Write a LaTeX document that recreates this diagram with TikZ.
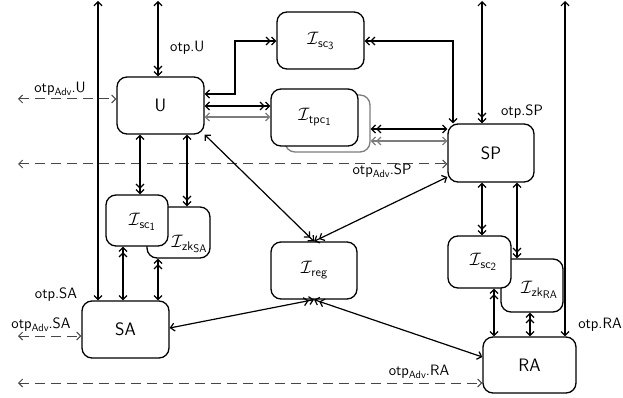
\documentclass[tikz,border=0pt]{standalone}
\usepackage{fix-cm}
\usetikzlibrary{arrows.meta}
\definecolor{dashgray}{RGB}{70,70,70}
\definecolor{softgray}{RGB}{125,125,125}
% functionality name: calligraphic I with a sans subscript and sub-subscript
\newcommand\funcname[2]{$\mathcal{I}$\kern-0.5pt\raisebox{-3pt}{\fontsize{12.5}{13}\selectfont #1\raisebox{-2pt}{\fontsize{11}{12}\selectfont #2}}}
\newcommand\advname{otp\raisebox{-2.5pt}{\fontsize{10.5}{11}\selectfont Adv}}
\begin{document}
\begin{tikzpicture}[x=1pt,y=-1pt,
  >={Straight Barb[length=4pt,width=8pt]},
  box/.style={draw, line width=1.3pt, rounded corners=10pt, fill=white,
    inner sep=0pt, font=\fontsize{18}{20}\selectfont\sffamily},
  lbl/.style={font=\fontsize{15}{17}\selectfont\sffamily, inner sep=0pt},
  ilbl/.style={font=\fontsize{18}{20}\selectfont\sffamily, inner sep=0pt},
  conn/.style={line width=1.2pt},
  gconn/.style={line width=1.2pt, draw=softgray},
  adv/.style={line width=1pt, draw=dashgray, dash pattern=on 10pt off 6pt},
]
\useasboundingbox (0,0) rectangle (623,398);

% parties and functionalities
\node[box, minimum width=87pt, minimum height=57pt] (U) at (160.5,105.5) {U};
\node[box, minimum width=87pt, minimum height=57pt] (Isc3) at (320.5,40.5) {};
\node[ilbl] (Isc3t) at (320.5,40.5) {\funcname{sc}{3}};
\node[box, draw=softgray, minimum width=85pt, minimum height=57pt] (tpcS) at (327.5,123.5) {};
\node[box, minimum width=87pt, minimum height=57pt] (tpc) at (314.5,117.5) {};
\node[ilbl] (tpct) at (314.5,117.5) {\funcname{tpc}{1}};
\node[box, minimum width=86pt, minimum height=58pt] (SP) at (491,153) {SP};
\node[box, minimum width=63pt, minimum height=51pt] (IzkSA) at (178.5,232.5) {};
\node[box, minimum width=62pt, minimum height=51pt] (Isc1) at (137,220.5) {};
\node[ilbl] (Isc1t) at (142,222) {\funcname{sc}{1}};
\node[ilbl] (IzkSAt) at (189,244) {\funcname{zk}{SA}};
\node[box, minimum width=87pt, minimum height=57pt] (SA) at (125.5,329.5) {SA};
\node[box, minimum width=86pt, minimum height=57pt] (Ireg) at (314,270.5) {};
\node[ilbl] (Iregt) at (314,270.5) {\funcname{reg}{}};
\node[box, minimum width=62pt, minimum height=53pt] (IzkRA) at (532,285.5) {};
\node[box, minimum width=63pt, minimum height=52pt] (Isc2) at (479.5,262) {};
\node[ilbl] (Isc2t) at (483,262) {\funcname{sc}{2}};
\node[ilbl] (IzkRAt) at (539,290) {\funcname{zk}{RA}};
\node[box, minimum width=93pt, minimum height=56pt] (RA) at (529.5,365) {RA};

% free ends of the environment channels
\coordinate (tU) at (158,1);
\coordinate (tSA) at (98,1);
\coordinate (tSP) at (482,1);
\coordinate (tRA) at (565,1);
\coordinate (aU) at (18,99);
\coordinate (aSP) at (18,164);
\coordinate (aSA) at (18,336);
\coordinate (aRA) at (18,383);
\coordinate (bU) at (235,41);
\coordinate (bSP) at (453,41);

% environment channels
\draw[conn, <->>] (tU) -- (tU |- U.north);
\draw[conn, <->] (tSA) -- (tSA |- SA.north);
\draw[conn, <->>] (tSP) -- (tSP |- SP.north);
\draw[conn, <->] (tRA) -- (tRA |- RA.north);

% adversary channels
\draw[adv, <->] (aU) -- (aU -| U.west);
\draw[adv, <->] (aSP) -- (aSP -| SP.west);
\draw[adv, <->] (aSA) -- (aSA -| SA.west);
\draw[adv, <->] (aRA) -- (aRA -| RA.west);

% links to the functionalities
\draw[conn, <->>] (U.east |- 0,94) -- (bU |- 0,94) -- (bU) -- (Isc3.west |- bU);
\draw[conn, <<->] (Isc3.east |- bSP) -- (bSP) -- (bSP |- SP.north);
\draw[conn, <->>] (U.east |- 0,106) -- (tpc.west |- 0,106);
\draw[gconn, <->] (U.east |- 0,117) -- (tpc.west |- 0,117);
\draw[conn, <<->] (tpcS.east |- 0,129) -- (SP.west |- 0,129);
\draw[gconn, <<->] (tpcS.east |- 0,141) -- (SP.west |- 0,141);

\draw[conn, <->>] (140,0 |- U.south) -- (140,0 |- Isc1.north);
\draw[conn, <->>] (187,0 |- U.south) -- (187,0 |- IzkSA.north);
\draw[conn, <<->] (123,0 |- Isc1.south) -- (123,0 |- SA.north);
\draw[conn, <<->] (158,0 |- IzkSA.south) -- (158,0 |- SA.north);
\draw[conn, <->>] (482,0 |- SP.south) -- (482,0 |- Isc2.north);
\draw[conn, <->>] (517,0 |- SP.south) -- (517,0 |- IzkRA.north);
\draw[conn, <<->] (494,0 |- Isc2.south) -- (494,0 |- RA.north);
\draw[conn, <<->] (530,0 |- IzkRA.south) -- (530,0 |- RA.north);

\draw[conn, <->>] (U.south east) -- (Ireg.north);
\draw[conn, <->>] (SP.west |- 0,177) -- (Ireg.north);
\draw[conn, <->>] (SA.east |- 0,328) -- (Ireg.south);
\draw[conn, <->>] (RA.west |- 0,357) -- (Ireg.south);

% channel labels
\node[lbl, anchor=west] (lU) at (170,48) {otp.U};
\node[lbl] (lAU) at (60,89) {\advname.U};
\node[lbl] (lASP) at (382,171) {\advname.SP};
\node[lbl] (lSP) at (522,112) {otp.SP};
\node[lbl] (lSA) at (56,295) {otp.SA};
\node[lbl] (lASA) at (41,325) {\advname.SA};
\node[lbl] (lRA) at (600,325) {otp.RA};
\node[lbl] (lARA) at (419,372) {\advname.RA};
\end{tikzpicture}
\end{document}
